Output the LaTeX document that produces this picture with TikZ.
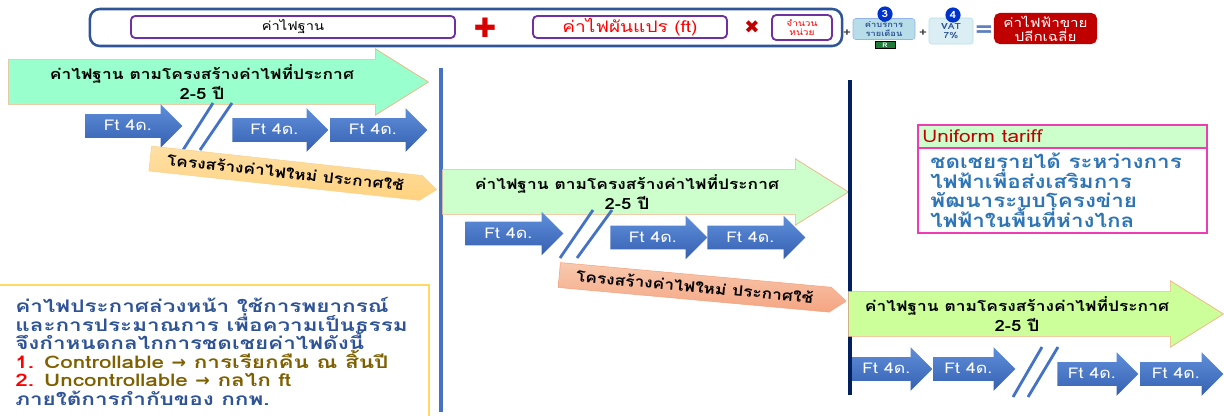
\documentclass[tikz,border=0pt]{standalone}
\usepackage{fontspec}
\setmainfont{Loma}[Script=Thai, FakeStretch=1.2]
\newfontfamily\notefont{Loma}[Script=Thai, FakeStretch=1.3]
\newfontfamily\symfont{DejaVu Sans}
\usetikzlibrary{shapes,arrows,positioning,calc}
\definecolor{framebl}{HTML}{2F5597}
\definecolor{termpu}{HTML}{7030A0}
\definecolor{darkred}{HTML}{C00000}
\definecolor{ftblue}{HTML}{4472C4}
\definecolor{ftlight}{HTML}{5F8FDB}
\definecolor{ftdark}{HTML}{3560B0}
\definecolor{navyline}{HTML}{002060}
\definecolor{mintfill}{HTML}{99FFCC}
\definecolor{palefill}{HTML}{CCFFCC}
\definecolor{limefill}{HTML}{CCFF99}
\definecolor{salmonedge}{HTML}{F4B183}
\definecolor{goldfill}{HTML}{FFD27F}
\definecolor{goldedge}{HTML}{F5B445}
\definecolor{salmonfill}{HTML}{F4A582}
\definecolor{salmonlight}{HTML}{F9C9AE}
\definecolor{notetxt}{HTML}{2F5496}
\definecolor{oliveft}{HTML}{7F6000}
\definecolor{tariffblue}{HTML}{2E75B6}
\definecolor{servicebg}{HTML}{B7DEE8}
\definecolor{vatbg}{HTML}{DAEEF3}
\definecolor{badgeblue}{HTML}{0033CC}
\definecolor{rgreen}{HTML}{1E7B3A}
\definecolor{notegold}{HTML}{FFD966}
\definecolor{pinkedge}{HTML}{F03CB4}
\definecolor{eqblue}{HTML}{5B7FC0}
\newcommand{\tightlines}{\lineskiplimit=-100pt\lineskip=0pt}
\begin{document}
\begin{tikzpicture}[x=0.025cm, y=-0.025cm]
  \tikzstyle{formula}=[rectangle, draw=framebl, line width=1.8pt, rounded corners=7pt, minimum width=18.8cm, minimum height=0.925cm]
  \tikzstyle{term}=[rectangle, draw=termpu, line width=1.3pt, rounded corners=3pt, minimum height=0.55cm, inner sep=0pt]
  \tikzstyle{badge}=[circle, fill=badgeblue, text=white, inner sep=0pt, minimum size=0.38cm, font=\fontsize{7}{7}\selectfont\bfseries]
  \tikzstyle{basearrow}=[single arrow, anchor=tail, draw=salmonedge, line width=0.5pt, text height=1.1cm, text depth=0pt, inner sep=0pt, single arrow head extend=0.27cm, single arrow tip angle=64]
  \tikzstyle{ftarrow}=[single arrow, anchor=tail, top color=ftlight, bottom color=ftdark, draw=none, text=white, text height=0.4cm, text depth=0.175cm, inner sep=0pt, single arrow head extend=0.25cm, single arrow tip angle=90, font=\fontsize{10.5}{10.5}\selectfont]
  \tikzstyle{newrate}=[single arrow, anchor=tail, text height=0.43cm, text depth=0.18cm, inner sep=0pt, single arrow head extend=0pt, single arrow tip angle=76, minimum height=7.2cm, font=\fontsize{10.3}{10.3}\selectfont\bfseries]
  \tikzstyle{basetext}=[align=center, inner sep=0pt, font=\fontsize{10.3}{14}\selectfont\bfseries\tightlines]
  \tikzstyle{slash}=[ftblue, line width=2pt]
  \tikzstyle{op}=[inner sep=0pt, font=\symfont\fontsize{12}{12}\selectfont]

  \useasboundingbox (0,0) rectangle (1224,415);

  % Formula
  \node[formula] (formula) at (466,27.5) {};
  \node[term, minimum width=8.1cm, font=\fontsize{8.7}{9}\selectfont] (fixed) at (293,27) {ค่าไฟฐาน};
  \node[op, text=red!85!black, font=\symfont\fontsize{19}{19}\selectfont] (plus) at (485,28) {✚};
  \node[term, minimum width=4.85cm, text=red, font=\fontsize{11.3}{11.3}\selectfont] (variable) at (630,27) {ค่าไฟผันแปร (ft)};
  \node[op, text=darkred, font=\symfont\fontsize{13}{13}\selectfont] (times) at (752,27) {✖};
  \node[term, minimum width=1.5cm, minimum height=0.625cm, align=center, text=red, font=\fontsize{6}{6.5}\selectfont\tightlines] (units) at (802,27.5) {จำนวน\\หน่วย};
  \node[op, text=darkgray, font=\fontsize{8}{8}\selectfont\bfseries] (plusa) at (847,33) {+};
  \node[rectangle, fill=servicebg, draw=servicebg!80!blue, rounded corners=2pt, minimum width=1.55cm, minimum height=0.525cm, inner sep=0pt, align=center, text=framebl, font=\fontsize{5.5}{6}\selectfont\bfseries\tightlines] (service) at (884,29) {ค่าบริการ\\รายเดือน};
  \node[badge] (b3) at (885,14) {3};
  \node[rectangle, fill=rgreen, draw=black, text=white, inner sep=0pt, minimum width=0.5cm, minimum height=0.17cm, font=\fontsize{4.5}{4.5}\selectfont\bfseries] (rbox) at (885,45) {R};
  \node[op, text=darkgray, font=\fontsize{8}{8}\selectfont\bfseries] (plusb) at (923,33) {+};
  \node[rectangle, fill=vatbg, draw=servicebg, rounded corners=2pt, minimum width=1.1cm, minimum height=0.65cm, inner sep=0pt, align=center, text=framebl, font=\fontsize{6}{6.5}\selectfont\bfseries\tightlines] (vat) at (951,31) {VAT\\7\%};
  \node[badge] (b4) at (953,15) {4};
  \node[op, text=eqblue, font=\fontsize{18}{18}\selectfont\bfseries] (equals) at (984,32) {=};
  \node[rectangle, fill=darkred, text=white, rounded corners=4pt, minimum width=2.575cm, minimum height=0.775cm, inner sep=0pt, align=center, font=\fontsize{9}{10}\selectfont\tightlines] (retail) at (1045.5,28.5) {ค่าไฟฟ้าขาย\\ปลีกเฉลี่ย};

  % Period 1
  \node[basearrow, fill=mintfill, minimum height=10.5cm] (base1) at (8,82) {};
  \node[basetext] (base1t) at (202,82) {ค่าไฟฐาน ตามโครงสร้างค่าไฟที่ประกาศ\\{\fontsize{11}{14}\selectfont 2-5 ปี}};
  \node[ftarrow, minimum height=2.425cm] (f11) at (85,126) {Ft 4ด.};
  \node[ftarrow, minimum height=2.4cm] (f12) at (232,130) {Ft 4ด.};
  \node[ftarrow, minimum height=2.425cm] (f13) at (330,130) {Ft 4ด.};
  \draw[slash] (213,103) -- (183,150);
  \draw[slash] (232,103) -- (200,150);
  \node[newrate, top color=goldfill!70!white, bottom color=goldfill, draw=goldedge!60, rotate=-6.2] (new1) at (150,158.5) {โครงสร้างค่าไฟใหม่ ประกาศใช้};
  \draw[ftblue, line width=3.5pt] (441,68) -- (441,412);

  % Period 2
  \node[basearrow, fill=palefill, minimum height=10.15cm] (base2) at (442,192) {};
  \node[basetext] (base2t) at (627,192) {ค่าไฟฐาน ตามโครงสร้างค่าไฟที่ประกาศ\\{\fontsize{11}{14}\selectfont 2-5 ปี}};
  \node[ftarrow, minimum height=2.45cm] (f21) at (465,233.5) {Ft 4ด.};
  \node[ftarrow, minimum height=2.425cm] (f22) at (610,237.5) {Ft 4ด.};
  \node[ftarrow, minimum height=2.45cm] (f23) at (707,237.5) {Ft 4ด.};
  \draw[slash] (593,210) -- (560,258);
  \draw[slash] (612,210) -- (577,258);
  \node[newrate, top color=salmonlight, bottom color=salmonfill, draw=salmonfill, rotate=-5.2] (new2) at (559,275) {โครงสร้างค่าไฟใหม่ ประกาศใช้};
  \draw[navyline, line width=3.5pt] (850,80) -- (850,395);

  % Period 3
  \node[basearrow, fill=limefill, minimum height=9.375cm] (base3) at (848,314) {};
  \node[basetext] (base3t) at (1017,314) {ค่าไฟฐาน ตามโครงสร้างค่าไฟที่ประกาศ\\{\fontsize{11}{14}\selectfont 2-5 ปี}};
  \node[ftarrow, minimum height=2cm] (f31) at (852,369) {Ft 4ด.};
  \node[ftarrow, minimum height=2.05cm] (f32) at (933,369) {Ft 4ด.};
  \node[ftarrow, minimum height=2.025cm] (f33) at (1057,374) {Ft 4ด.};
  \node[ftarrow, minimum height=2.075cm] (f34) at (1140,374) {Ft 4ด.};
  \draw[slash] (1042,347) -- (1013,397);
  \draw[slash] (1058,347) -- (1028,397);

  % Uniform tariff
  \node[rectangle, draw=pinkedge, line width=1pt, minimum width=7.225cm, minimum height=2.7cm] (tariff) at (1062.5,179) {};
  \node[rectangle, fill=palefill, draw=pinkedge, line width=1pt, minimum width=7.225cm, minimum height=0.575cm, inner sep=0pt] (uniform) at (1062.5,136.5) {};
  \node[anchor=west, inner sep=0pt, text=darkred, font=\fontsize{12.3}{12.3}\selectfont] (uniformt) at (922,136.5) {Uniform tariff};
  \node[anchor=north west, align=left, text=tariffblue, inner sep=0pt, font=\fontsize{13.3}{13.8}\selectfont\bfseries\tightlines] (tarifftext) at (930,153) {ชดเชยรายได้ ระหว่างการ\\ไฟฟ้าเพื่อส่งเสริมการ\\พัฒนาระบบโครงข่าย\\ไฟฟ้าในพื้นที่ห่างไกล};

  % Note
  \node[rectangle, draw=notegold, line width=1.2pt, minimum width=10.8cm, minimum height=3.5cm] (note) at (213,355) {};
  \node[anchor=north west, align=left, text=notetxt, inner sep=0pt, font=\notefont\fontsize{12.3}{13.2}\selectfont\bfseries\tightlines] (notetext) at (15,297) {ค่าไฟประกาศล่วงหน้า ใช้การพยากรณ์\\และการประมาณการ เพื่อความเป็นธรรม\\จึงกำหนดกลไกการชดเชยค่าไฟดังนี้\\{\color{red}1.} {\color{oliveft}Controllable {\symfont →} การเรียกคืน ณ สิ้นปี}\\{\color{red}2.} {\color{oliveft}Uncontrollable {\symfont →} กลไก ft}\\ภายใต้การกำกับของ กกพ.};
\end{tikzpicture}
\end{document}
